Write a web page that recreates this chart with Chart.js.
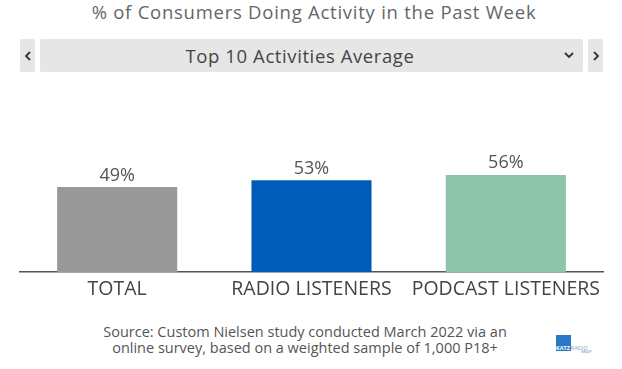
<!DOCTYPE html>
<html>
<head>
  <title>% of Consumers Doing Activity in the Past Week</title>
  <script src="https://cdn.jsdelivr.net/npm/chart.js"></script>
  <style>
    body {
      margin: 0;
      width: 622px;
      height: 369px;
      background: #fff;
      font-family: "Open Sans", sans-serif;
      position: relative;
      overflow: hidden;
    }
    .title {
      position: absolute;
      left: 0; top: 1px; width: 628px;
      text-align: center;
      font-size: 18.5px;
      letter-spacing: 0.75px;
      line-height: 22px;
      color: #666;
    }
    .box {
      position: absolute;
      top: 39px; height: 33px;
      background: #e6e6e6;
      border-radius: 2px;
      display: flex;
      align-items: center;
      justify-content: center;
    }
    .select {
      left: 40px; width: 543px;
      box-sizing: border-box;
      padding-right: 23px;
      font-size: 18.5px;
      letter-spacing: 0.6px;
      color: #444;
    }
    .chart-container {
      position: absolute;
      left: 0; top: 90px;
      width: 622px; height: 220px;
    }
    .source {
      position: absolute;
      left: 0; top: 324px; width: 610px;
      text-align: center;
      font-size: 14.5px;
      line-height: 16px;
      color: #555;
    }
    .logo {
      position: absolute;
      left: 556px; top: 335px;
    }
  </style>
</head>
<body>
  <div class="title">% of Consumers Doing Activity in the Past Week</div>

  <div class="box" style="left:20px;width:15px;">
    <svg width="8" height="10"><polyline points="6,1 2,5 6,9" fill="none" stroke="#333" stroke-width="1.8"/></svg>
  </div>
  <div class="box select">Top 10 Activities Average</div>
  <svg style="position:absolute;left:564px;top:52px" width="10" height="7"><polyline points="1,1 5,5 9,1" fill="none" stroke="#333" stroke-width="1.8"/></svg>
  <div class="box" style="left:588px;width:15px;">
    <svg width="8" height="10"><polyline points="2,1 6,5 2,9" fill="none" stroke="#333" stroke-width="1.8"/></svg>
  </div>

  <div class="chart-container">
    <canvas id="chartActivity"></canvas>
  </div>

  <div class="source">Source: Custom Nielsen study conducted March 2022 via an<br>online survey, based on a weighted sample of 1,000 P18+</div>

  <div class="logo">
    <div style="position:absolute;left:0;top:0;width:15px;height:16px;background:#2b78c8;"></div>
    <div style="position:absolute;left:0;top:9px;font-size:5.5px;font-weight:bold;color:#fff;">KATZ</div>
    <div style="position:absolute;left:15px;top:9px;font-size:5.5px;color:#999;">RADIO</div>
    <div style="position:absolute;left:25px;top:15px;font-size:3px;color:#2b78c8;">GROUP</div>
  </div>

  <script>
    const categories = ['TOTAL', 'RADIO LISTENERS', 'PODCAST LISTENERS'];
    const values = [49, 53, 56];
    const barColors = ['#999999', '#005cb9', '#8dc4a9'];

    // draws the "49%" labels above each bar
    const valueLabels = {
      id: 'valueLabels',
      afterDatasetsDraw(chart) {
        const ctx = chart.ctx;
        const meta = chart.getDatasetMeta(0);
        ctx.save();
        ctx.font = '18px "Open Sans"';
        ctx.fillStyle = '#555';
        ctx.textAlign = 'center';
        ctx.textBaseline = 'alphabetic';
        meta.data.forEach((bar, i) => {
          ctx.fillText(values[i] + '%', bar.x, bar.y - 6.5);
        });
        ctx.restore();
      }
    };

    function createChart(canvasId) {
      const ctx = document.getElementById(canvasId).getContext('2d');
      new Chart(ctx, {
        type: 'bar',
        data: {
          labels: categories,
          datasets: [{
            data: values,
            backgroundColor: barColors,
            borderWidth: 0,
            categoryPercentage: 1,
            barPercentage: 0.618
          }]
        },
        options: {
          responsive: true,
          maintainAspectRatio: false,
          animation: false,
          layout: {
            padding: { left: 20, right: 19, top: 8.5, bottom: 2.4 }
          },
          plugins: {
            legend: { display: false },
            tooltip: { enabled: false }
          },
          scales: {
            x: {
              grid: { display: false, drawTicks: false },
              border: { display: true, color: '#555', width: 1.5 },
              ticks: {
                padding: 6,
                color: '#444',
                font: { family: 'Open Sans', size: 19.5 }
              }
            },
            y: {
              display: false,
              min: 0,
              max: 100
            }
          }
        },
        plugins: [valueLabels]
      });
    }

    createChart('chartActivity');
  </script>
</body>
</html>
